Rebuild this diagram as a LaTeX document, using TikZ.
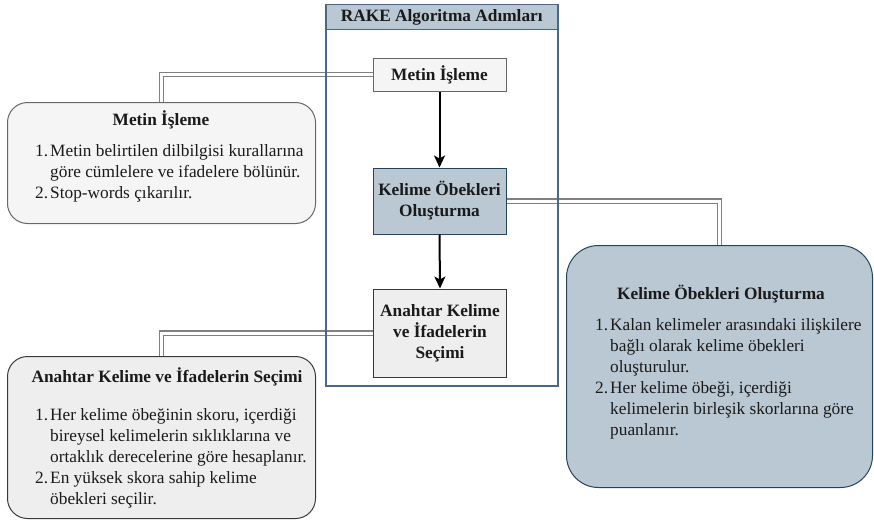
\documentclass[tikz,border=0pt]{standalone}
\usepackage{fontspec}
\setmainfont{Liberation Serif}
\usetikzlibrary{arrows.meta}

\definecolor{paleGray}{HTML}{F5F5F5}
\definecolor{paleGrayLine}{HTML}{666666}
\definecolor{midGray}{HTML}{EEEEEE}
\definecolor{midGrayLine}{HTML}{36393D}
\definecolor{slateFill}{HTML}{BAC8D3}
\definecolor{slateLine}{HTML}{23445D}
\definecolor{laneLine}{HTML}{4A6784}
\definecolor{linkGray}{HTML}{808080}
\definecolor{inkText}{HTML}{1A1A1A}

\newcommand\bodysize{\fontsize{17.3}{21}\selectfont}
\newcommand\numitem[1]{\makebox[15pt][l]{#1}}
\newcommand\contitem{\hspace*{15pt}}

\tikzset{
  x=1pt, y=-1pt,
  every node/.style={text=inkText},
  stepbox/.style={draw, line width=1pt, minimum width=133pt, inner sep=0pt,
    align=center, font=\bodysize\bfseries},
  detailbox/.style={draw, line width=1pt, inner sep=0pt, anchor=north west},
  boxtitle/.style={font=\bodysize\bfseries, inner sep=0pt, anchor=base},
  % base anchor of a multi-line list sits on its last line
  itemlist/.style={font=\bodysize, align=left, inner sep=0pt, anchor=base west},
  link/.style={draw=linkGray, line width=1.4pt, double=white, double distance=3pt},
  flow/.style={line width=2pt, draw=black, -{Stealth[length=12pt,width=11pt,inset=3pt]}},
}

\begin{document}
\begin{tikzpicture}
\useasboundingbox (0,0) rectangle (874,519);

% step boxes inside the lane
\node[stepbox, fill=paleGray, draw=paleGrayLine, minimum height=33pt] (s1) at (439.5,74.5) {Metin İşleme};
\node[stepbox, fill=slateFill, draw=slateLine, minimum height=66pt] (s2) at (439.5,201) {Kelime Öbekleri\\Oluşturma};
\node[stepbox, fill=midGray, draw=midGrayLine, minimum height=88pt] (s3) at (440,333) {Anahtar Kelime\\ve İfadelerin\\Seçimi};

% detail boxes
\node[detailbox, fill=paleGray, draw=paleGrayLine, rounded corners=20pt,
  minimum width=308pt, minimum height=121pt] (d1) at (7,102) {};
\node[detailbox, fill=slateFill, draw=slateLine, rounded corners=32pt,
  minimum width=306pt, minimum height=242pt] (d2) at (566,245) {};
\node[detailbox, fill=midGray, draw=midGrayLine, rounded corners=20pt,
  minimum width=308pt, minimum height=162pt] (d3) at (7,356) {};

% double links from the steps to their details
\draw[link] (s1.west) -| (d1.north);
\draw[link] (s2.east) -| (d2.north);
\draw[link] (s3.west) -| (d3.north);

% lane frame with its title band
\node[draw=laneLine, line width=1.5pt, minimum width=232pt, minimum height=381pt,
  inner sep=0pt, anchor=north west] (lane) at (325,4) {};
\node[draw=laneLine, fill=slateFill, line width=1.5pt, minimum width=232pt,
  minimum height=25pt, inner sep=0pt, anchor=north west,
  font=\bodysize\bfseries] (laneTitle) at (325,4) {RAKE Algoritma Adımları};

% redraw step boxes above the frame
\node[stepbox, fill=paleGray, draw=paleGrayLine, minimum height=33pt] at (s1) {Metin İşleme};
\node[stepbox, fill=slateFill, draw=slateLine, minimum height=66pt] at (s2) {Kelime Öbekleri\\Oluşturma};
\node[stepbox, fill=midGray, draw=midGrayLine, minimum height=88pt] at (s3) {Anahtar Kelime\\ve İfadelerin\\Seçimi};

% flow arrows
\draw[flow] (s1.south) -- (s2.north);
\draw[flow] (s2.south) -- (s3.north);

% detail texts
\node[boxtitle] (t1) at (161,125) {Metin İşleme};
\node[itemlist] (l1) at (35,198) {\numitem{1.}Metin belirtilen dilbilgisi kurallarına\\
  \contitem göre cümlelere ve ifadelere bölünür.\\
  \numitem{2.}Stop-words çıkarılır.};

\node[boxtitle] (t2) at (721,299) {Kelime Öbekleri Oluşturma};
\node[itemlist] (l2) at (595,435) {\numitem{1.}Kalan kelimeler arasındaki ilişkilere\\
  \contitem bağlı olarak kelime öbekleri\\
  \contitem oluşturulur.\\
  \numitem{2.}Her kelime öbeği, içerdiği\\
  \contitem kelimelerin birleşik skorlarına göre\\
  \contitem puanlanır.};

\node[boxtitle] (t3) at (167,382) {Anahtar Kelime ve İfadelerin Seçimi};
\node[itemlist] (l3) at (35,504) {\numitem{1.}Her kelime öbeğinin skoru, içerdiği\\
  \contitem bireysel kelimelerin sıklıklarına ve\\
  \contitem ortaklık derecelerine göre hesaplanır.\\
  \numitem{2.}En yüksek skora sahip kelime\\
  \contitem öbekleri seçilir.};
\end{tikzpicture}
\end{document}
